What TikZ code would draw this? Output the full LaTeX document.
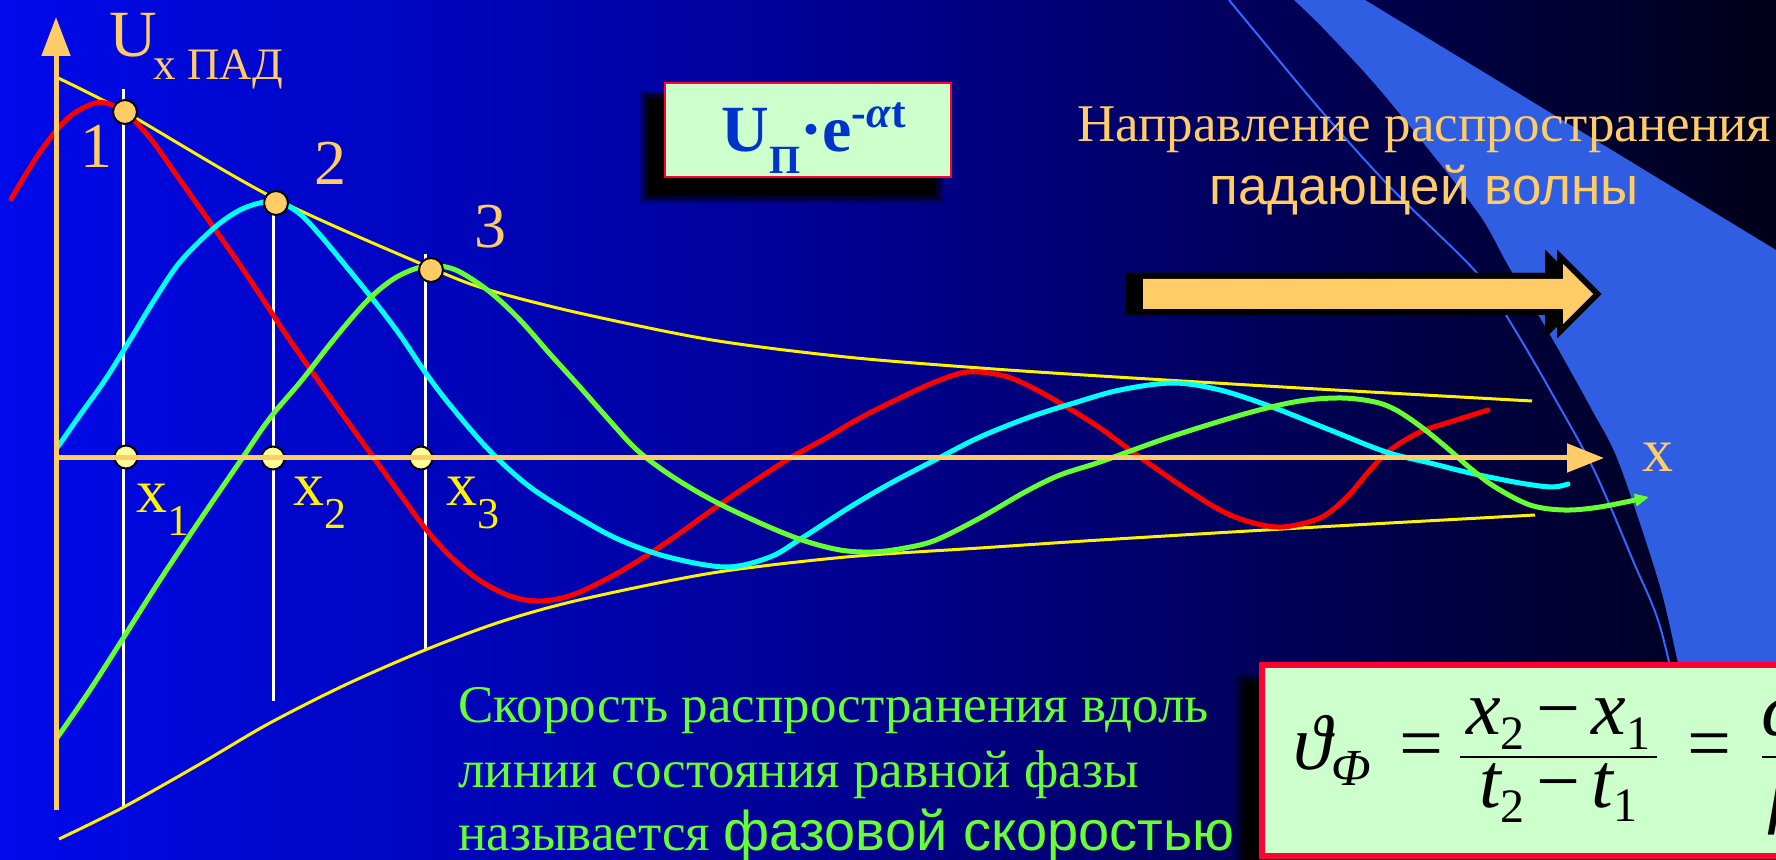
\documentclass[tikz,border=0pt]{standalone}
\usepackage{fontspec}
\usepackage{amsmath}
\setmainfont{Liberation Serif}
\newfontfamily\timesf{Liberation Serif}
\newfontfamily\arialf{Liberation Sans}
\usetikzlibrary{arrows.meta}
\newcommand\setfs[1]{\fontsize{#1}{#1}\selectfont}
\definecolor{bgL}{RGB}{0,10,235}
\definecolor{bgM}{RGB}{0,0,140}
\definecolor{bgR}{RGB}{0,0,24}
\definecolor{bandblue}{RGB}{48,94,226}
\definecolor{thinblue}{RGB}{51,102,255}
\definecolor{orng}{RGB}{255,204,102}
\definecolor{lgreen}{RGB}{204,255,204}
\definecolor{boxred}{RGB}{255,0,51}
\definecolor{wred}{RGB}{255,0,0}
\definecolor{wcyan}{RGB}{0,255,255}
\definecolor{wgreen}{RGB}{102,255,51}
\definecolor{pyellow}{RGB}{255,255,153}
\definecolor{fblue}{RGB}{0,51,204}
\begin{document}
\begin{tikzpicture}[x=0.5pt,y=-0.5pt,
  wave/.style={line width=2.5pt,line cap=round,line join=round},
  envl/.style={yellow,line width=1.5pt},
  vline/.style={white,line width=1.5pt},
  axisline/.style={orng,line width=2.5pt},
  dotA/.style={circle,draw=black,line width=1pt,fill=orng,minimum size=12pt,inner sep=0},
  dotB/.style={circle,draw=black,line width=1pt,fill=pyellow,minimum size=11.5pt,inner sep=0},
  lbl/.style={inner sep=0,text=orng,font=\timesf},
  xl/.style={inner sep=0,text=yellow,font=\timesf},
  gtxt/.style={inner sep=0,text=wgreen,anchor=base west,font=\timesf}]
\useasboundingbox (0,0) rectangle (1776,860);
\begin{scope}
\clip (0,0) rectangle (1776,860);
% background
\shade[left color=bgL,right color=bgR,middle color=bgM] (0,0) rectangle (1776,860);
% band
\fill[bandblue] (1294,0) -- (1365,0) -- (1776,250) -- (1776,860) -- (1722,860)
  -- plot[smooth] coordinates {(1722,860) (1700,760) (1678,663) (1659,583) (1619,463) (1592,410) (1549,333) (1509,267) (1481,217) (1429,150) (1374,83) (1322,27) (1294,0)} -- cycle;
\draw[thinblue,line width=1pt] plot[smooth] coordinates {(1229,0) (1318,107) (1390,187) (1477,273) (1515,330) (1554,397) (1594,470) (1634,563) (1661,630) (1690,760) (1708,860)};
% box 1
\fill[black,opacity=0.3] (640,91) rectangle (943,203);
\fill[black,opacity=0.5] (643,94) rectangle (940,200);
\fill[black] (647,98) rectangle (936,196);
\node[draw=boxred,fill=lgreen,line width=1pt,minimum width=143pt,minimum height=47pt,inner sep=0] (boxA) at (808,130) {};
\node[anchor=base west,inner sep=0,text=fblue,font=\timesf] (formA) at (721,152)
  {\bfseries\setfs{33}U\raisebox{-11pt}{\setfs{20}П}·e\raisebox{12pt}{\setfs{22}-\textit{α}t}};
% direction text and arrow
\node[lbl,anchor=base west] (dir1) at (1077,142) {\setfs{26.5}Направление распространения};
\node[lbl,anchor=base west,font=\arialf] (dir2) at (1209,205) {\setfs{26.5}падающей волны};
\draw[black,fill=black,line width=6pt,xshift=-6pt] (1143,279) -- (1563,279) -- (1563,264) -- (1593,294) -- (1563,324) -- (1563,309) -- (1143,309) -- cycle;
\draw[black,fill=black,line width=6pt] (1143,279) -- (1563,279) -- (1563,264) -- (1593,294) -- (1563,324) -- (1563,309) -- (1143,309) -- cycle;
\fill[orng] (1143,279) -- (1563,279) -- (1563,264) -- (1593,294) -- (1563,324) -- (1563,309) -- (1143,309) -- cycle;
% green text
\node[gtxt] (g1) at (458,722) {\setfs{26.5}Скорость распространения вдоль};
\node[gtxt] (g2) at (458,787) {\setfs{26.5}линии состояния равной фазы};
\node[gtxt] (g3) at (458,850) {\setfs{26.5}называется {\arialf\setfs{28}фазовой скоростью}};
% box 2
\fill[black,opacity=0.3] (1236,674) rectangle (1790,870);
\fill[black,opacity=0.5] (1239,677) rectangle (1790,870);
\fill[black] (1243,681) rectangle (1790,870);
\draw[boxred,fill=lgreen,line width=3pt] (1262,665) rectangle (1800,856);
\node[anchor=base west,inner sep=0,font=\timesf] (formB) at (1293,769)
  {\setfs{39}$\displaystyle \text{\itshape ϑ}_{\text{\setfs{26}\itshape Φ}}\;\mathrel{\text{=}}
   \frac{\hspace{3pt}\text{\itshape x}_{\text{\setfs{24}2}}\mathbin{\text{−}}\text{\itshape x}_{\text{\setfs{24}1}}\hspace{3pt}}{\text{\itshape t}_{\text{\setfs{24}2}}\mathbin{\text{−}}\text{\itshape t}_{\text{\setfs{24}1}}}
   \;\mathrel{\text{=}}\;\frac{\text{\itshape ω}}{\text{\itshape β}}$};
% vertical lines
\draw[vline] (123,89) -- (123,808);
\draw[vline] (273,203) -- (273,701);
\draw[vline] (425,254) -- (425,650);
% envelopes
\draw[envl] plot[smooth,tension=0.5] coordinates {(56,77) (125,112) (272,197) (431,268) (489,290) (579,313) (712,340) (846,357) (980,368) (1100,376) (1300,388) (1532,401)};
\draw[envl] plot[smooth,tension=0.5] coordinates {(59,839) (122,808) (200,764) (268,724) (345,685) (425,650) (500,622) (579,600) (712,573) (846,557) (980,548) (1100,540) (1300,528) (1535,515)};
% waves
\draw[wave,wred] plot[smooth,tension=0.55] coordinates {(11,199) (40,152) (68,118) (95,103) (112,105) (125,112) (150,138) (180,180) (214,228) (240,265) (262,298) (285,333) (310,369) (340,411) (371,454) (400,494) (425,528) (450,556) (479,580) (510,596) (540,601) (575,594) (623,570) (670,540) (712,510) (750,484) (790,458) (826,438) (860,418) (900,398) (935,382) (967,372) (1000,375) (1025,384) (1060,403) (1100,428) (1134,453) (1180,485) (1220,510) (1250,522) (1282,527) (1320,518) (1347,497) (1370,470) (1390,450) (1420,432) (1450,422) (1488,410)};
\draw[wave,wcyan] plot[smooth,tension=0.55] coordinates {(57,448) (80,415) (105,380) (130,340) (153,302) (180,262) (214,228) (240,210) (264,202) (280,202) (300,214) (320,235) (345,265) (375,302) (400,335) (425,372) (450,405) (489,450) (530,487) (579,518) (620,540) (668,557) (726,567) (770,557) (802,538) (850,507) (891,483) (935,460) (980,437) (1030,417) (1074,403) (1120,390) (1173,383) (1220,390) (1272,407) (1330,430) (1386,452) (1430,463) (1470,473) (1520,483) (1552,487) (1568,484)};
\draw[wave,wgreen,-{Triangle[length=7pt,width=6pt]}] plot[smooth,tension=0.55] coordinates {(57,738) (90,690) (122,640) (160,580) (200,520) (241,460) (270,418) (302,380) (335,338) (368,300) (395,278) (421,267) (440,266) (460,272) (490,292) (520,320) (550,354) (579,386) (610,421) (637,450) (670,475) (712,500) (760,523) (802,540) (840,550) (873,552) (905,548) (936,540) (980,518) (1025,492) (1060,475) (1100,462) (1170,437) (1248,413) (1300,401) (1342,398) (1375,402) (1396,410) (1420,426) (1446,447) (1470,468) (1495,487) (1530,505) (1564,510) (1600,507) (1649,497)};
% bottom dots
\node[dotB] (b1) at (126,457) {};
\node[dotB] (b2) at (273,458) {};
\node[dotB] (b3) at (421,458) {};
% axes
\draw[axisline,-{Triangle[length=19.5pt,width=14pt]}] (56,810) -- (56,17);
\draw[axisline,-{Triangle[length=18.5pt,width=14pt]}] (56,458) -- (1604,458);
% top dots
\node[dotA] (c1) at (125,112) {};
\node[dotA] (c2) at (276,203) {};
\node[dotA] (c3) at (431,270) {};
% labels
\node[lbl,anchor=base west] (ulbl) at (109,57) {\setfs{33}U};
\node[lbl,anchor=base west] (usub) at (153,80) {\setfs{22.5}x ПАД};
\node[lbl,anchor=base] (n1) at (96,168) {\setfs{32}1};
\node[lbl,anchor=base] (n2) at (330,185) {\setfs{32}2};
\node[lbl,anchor=base] (n3) at (490,248) {\setfs{32}3};
\node[xl,anchor=base west] (xl1) at (136,512) {\setfs{31}x\raisebox{-11.5pt}{\setfs{22}1}};
\node[xl,anchor=base west] (xl2) at (293,505) {\setfs{31}x\raisebox{-11.5pt}{\setfs{22}2}};
\node[xl,anchor=base west] (xl3) at (446,505) {\setfs{31}x\raisebox{-11.5pt}{\setfs{22}3}};
\node[lbl,anchor=base west] (xaxl) at (1642,472) {\setfs{31}x};
\end{scope}
\end{tikzpicture}
\end{document}
